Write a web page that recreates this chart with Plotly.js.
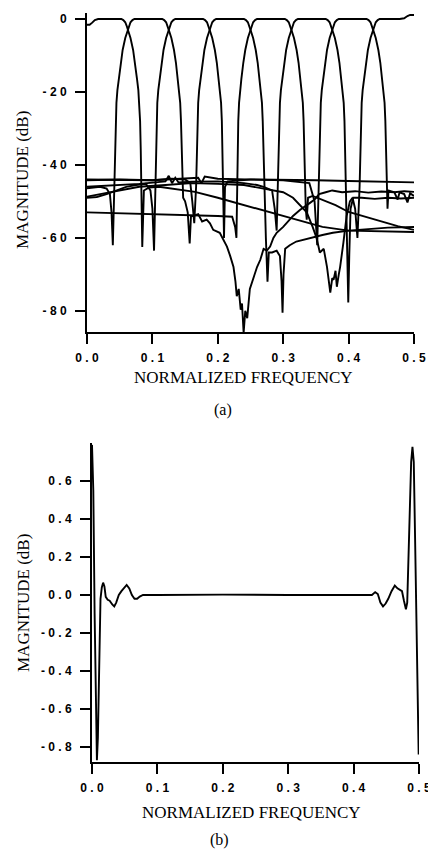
<!DOCTYPE html>
<html>
<head>
<meta charset="utf-8">
<script src="https://cdn.plot.ly/plotly-3.0.1.min.js"></script>
<style>html,body{margin:0;padding:0;background:#fff;}#chart{width:428px;height:850px;}</style>
</head>
<body>
<div id="chart"></div>
<script>
// ---------- Panel (a): filter-bank channel magnitude responses, [frequency, dB] ----------
const ch0 = [[0,-1.6],[0.004,-1.6],[0.008,-1.0],[0.012,-0.3],[0.017,0],[0.0525,0],[0.0555,-0.3],[0.0585,-0.9],[0.0605,-1.8],[0.0625,-3],[0.0665,-5.2],[0.0705,-8.5],[0.0735,-12],[0.0765,-16.5],[0.0785,-19.5],[0.0800,-23],[0.0812,-28],[0.0822,-36],[0.0832,-46],[0.0845,-62.5],[0.087,-47],[0.095,-46.2],[0.11,-46],[0.13,-46.5],[0.15,-47],[0.165,-47.4],[0.2,-49],[0.25,-51.5],[0.3,-54],[0.333,-55.6],[0.36,-57],[0.4,-58],[0.45,-58.3],[0.5,-58.4]];
const ch1 = [[0,-46.4],[0.01,-46.3],[0.02,-46],[0.03,-46.5],[0.035,-48],[0.0375,-53],[0.0395,-62],[0.0418,-46],[0.0428,-36],[0.0438,-28],[0.045,-23],[0.0465,-19.5],[0.0485,-16.5],[0.0515,-12],[0.0545,-8.5],[0.0585,-5.2],[0.0625,-3],[0.0645,-1.8],[0.0665,-0.9],[0.0695,-0.3],[0.0725,0],[0.115,0],[0.118,-0.3],[0.121,-0.9],[0.123,-1.8],[0.125,-3],[0.129,-5.2],[0.133,-8.5],[0.136,-12],[0.139,-16.5],[0.141,-19.5],[0.1425,-23],[0.1437,-28],[0.1447,-36],[0.1457,-46],[0.147,-49],[0.15,-50],[0.154,-53],[0.157,-61.5],[0.159,-54],[0.162,-54],[0.17,-53.5],[0.176,-55.5],[0.183,-55],[0.188,-56],[0.193,-57.8],[0.203,-58.6],[0.209,-60.5],[0.214,-62.4],[0.219,-65],[0.224,-68],[0.227,-72],[0.229,-76],[0.232,-74],[0.235,-79.7],[0.237,-78],[0.2395,-86],[0.242,-80],[0.245,-82],[0.249,-74],[0.254,-71],[0.26,-68],[0.265,-66],[0.27,-63],[0.275,-63.5],[0.28,-62.4],[0.285,-60],[0.29,-58.6],[0.3,-57],[0.307,-55.5],[0.315,-54],[0.326,-52.3],[0.333,-51.5],[0.341,-50.4],[0.348,-49.5],[0.355,-48],[0.365,-47.5],[0.375,-47],[0.39,-47.5],[0.41,-47.2],[0.43,-47.6],[0.45,-47.3],[0.47,-47.5],[0.485,-47.2],[0.5,-47.4]];
const ch2 = [[0,-49],[0.015,-48.8],[0.03,-48],[0.045,-47],[0.06,-46],[0.075,-45.5],[0.09,-45.2],[0.097,-47],[0.1,-52],[0.1025,-63.5],[0.1043,-46],[0.1053,-36],[0.1063,-28],[0.1075,-23],[0.109,-19.5],[0.111,-16.5],[0.114,-12],[0.117,-8.5],[0.121,-5.2],[0.125,-3],[0.127,-1.8],[0.129,-0.9],[0.132,-0.3],[0.135,0],[0.1775,0],[0.1805,-0.3],[0.1835,-0.9],[0.1855,-1.8],[0.1875,-3],[0.1915,-5.2],[0.1955,-8.5],[0.1985,-12],[0.2015,-16.5],[0.2035,-19.5],[0.205,-23],[0.2062,-28],[0.2072,-36],[0.2082,-46],[0.2095,-60],[0.211,-46],[0.215,-44.5],[0.25,-44],[0.3,-44],[0.35,-44.2],[0.4,-44.4],[0.45,-44.6],[0.5,-44.8]];
const ch3 = [[0,-44.2],[0.05,-44],[0.1,-44.2],[0.13,-43.8],[0.15,-44],[0.158,-45],[0.161,-50],[0.164,-56],[0.1668,-46],[0.1678,-36],[0.1688,-28],[0.17,-23],[0.1715,-19.5],[0.1735,-16.5],[0.1765,-12],[0.1795,-8.5],[0.1835,-5.2],[0.1875,-3],[0.1895,-1.8],[0.1915,-0.9],[0.1945,-0.3],[0.1975,0],[0.24,0],[0.243,-0.3],[0.246,-0.9],[0.248,-1.8],[0.25,-3],[0.254,-5.2],[0.258,-8.5],[0.261,-12],[0.264,-16.5],[0.266,-19.5],[0.2675,-23],[0.2687,-28],[0.2697,-36],[0.2707,-46],[0.2735,-60],[0.276,-72],[0.278,-64],[0.283,-64],[0.29,-63.5],[0.295,-65],[0.2975,-72],[0.299,-80.5],[0.3005,-70],[0.303,-63],[0.31,-62],[0.32,-61],[0.34,-60],[0.36,-59.2],[0.376,-58.6],[0.4,-58],[0.43,-57.6],[0.46,-57.2],[0.5,-57]];
const ch4 = [[0,-53],[0.05,-53.2],[0.1,-53.5],[0.15,-53.7],[0.2,-54],[0.222,-54.2],[0.2265,-57],[0.2285,-60],[0.2293,-46],[0.2303,-36],[0.2313,-28],[0.2325,-23],[0.234,-19.5],[0.236,-16.5],[0.239,-12],[0.242,-8.5],[0.246,-5.2],[0.25,-3],[0.252,-1.8],[0.254,-0.9],[0.257,-0.3],[0.26,0],[0.3025,0],[0.3055,-0.3],[0.3085,-0.9],[0.3105,-1.8],[0.3125,-3],[0.3165,-5.2],[0.3205,-8.5],[0.3235,-12],[0.3265,-16.5],[0.3285,-19.5],[0.33,-23],[0.3312,-28],[0.3322,-36],[0.3332,-46],[0.3345,-52],[0.336,-55],[0.338,-49],[0.345,-48.5],[0.36,-49.5],[0.38,-51],[0.4,-52.9],[0.42,-54],[0.45,-55.5],[0.475,-56.8],[0.5,-57.8]];
const ch5 = [[0,-46],[0.04,-45.6],[0.08,-45.2],[0.12,-44.5],[0.125,-43],[0.13,-45],[0.135,-43.5],[0.14,-44.8],[0.16,-44.6],[0.2,-44.5],[0.24,-45],[0.26,-45.5],[0.27,-46],[0.283,-47],[0.287,-52],[0.29,-58],[0.2918,-46],[0.2928,-36],[0.2938,-28],[0.295,-23],[0.2965,-19.5],[0.2985,-16.5],[0.3015,-12],[0.3045,-8.5],[0.3085,-5.2],[0.3125,-3],[0.3145,-1.8],[0.3165,-0.9],[0.3195,-0.3],[0.3225,0],[0.365,0],[0.368,-0.3],[0.371,-0.9],[0.373,-1.8],[0.375,-3],[0.379,-5.2],[0.383,-8.5],[0.386,-12],[0.389,-16.5],[0.391,-19.5],[0.3925,-23],[0.3937,-28],[0.3947,-36],[0.3957,-46],[0.397,-60],[0.3995,-77.7],[0.401,-65],[0.403,-52],[0.407,-49],[0.42,-49],[0.44,-49.3],[0.46,-49],[0.48,-49.2],[0.5,-49]];
const ch6 = [[0,-44],[0.1,-44.2],[0.17,-43.5],[0.175,-45],[0.18,-43.2],[0.2,-43.8],[0.3,-44.2],[0.34,-45],[0.348,-50],[0.352,-62],[0.3543,-46],[0.3553,-36],[0.3563,-28],[0.3575,-23],[0.359,-19.5],[0.361,-16.5],[0.364,-12],[0.367,-8.5],[0.371,-5.2],[0.375,-3],[0.377,-1.8],[0.379,-0.9],[0.382,-0.3],[0.385,0],[0.4275,0],[0.4305,-0.3],[0.4335,-0.9],[0.4355,-1.8],[0.4375,-3],[0.4415,-5.2],[0.4455,-8.5],[0.4485,-12],[0.4515,-16.5],[0.4535,-19.5],[0.455,-23],[0.4562,-28],[0.4572,-36],[0.4582,-46],[0.4595,-52],[0.461,-47],[0.47,-47.5],[0.475,-49.5],[0.478,-47.5],[0.485,-48],[0.49,-50.3],[0.494,-47.8],[0.5,-48.5]];
const ch7 = [[0,-48.7],[0.02,-48],[0.05,-47],[0.08,-46],[0.12,-45.5],[0.16,-45],[0.2,-45.2],[0.24,-45.5],[0.27,-46.5],[0.3,-47.5],[0.315,-49],[0.326,-51],[0.336,-53],[0.345,-57],[0.351,-60],[0.356,-64],[0.362,-63],[0.367,-68],[0.372,-75],[0.375,-71],[0.377,-71.5],[0.38,-69],[0.382,-73.4],[0.385,-70],[0.387,-68],[0.392,-61.4],[0.397,-54],[0.402,-50],[0.406,-49],[0.41,-52],[0.4135,-60],[0.4168,-46],[0.4178,-36],[0.4188,-28],[0.42,-23],[0.4215,-19.5],[0.4235,-16.5],[0.4265,-12],[0.4295,-8.5],[0.4335,-5.2],[0.4375,-3],[0.4395,-1.8],[0.4415,-0.9],[0.4445,-0.3],[0.4475,0],[0.478,0],[0.485,0.2],[0.49,0.8],[0.494,1.1],[0.5,1.1]];
const channelsA = [ch0, ch1, ch2, ch3, ch4, ch5, ch6, ch7];

// ---------- Panel (b): overall passband ripple, [frequency, dB] ----------
const ripple = [[0,0.79],[0.002,0.55],[0.004,-0.1],[0.006,-0.6],[0.0075,-0.87],[0.009,-0.75],[0.011,-0.3],[0.013,-0.02],[0.015,0.04],[0.017,0.065],[0.019,0.045],[0.021,-0.01],[0.024,-0.025],[0.027,-0.03],[0.031,-0.05],[0.034,-0.06],[0.037,-0.04],[0.041,0.0],[0.045,0.02],[0.049,0.04],[0.053,0.053],[0.057,0.035],[0.061,0.0],[0.065,-0.02],[0.069,-0.02],[0.073,-0.008],[0.078,0.0],[0.1,0.0],[0.2,0.002],[0.3,0.0],[0.4,0.0],[0.428,0.0],[0.433,0.015],[0.437,0.005],[0.441,-0.04],[0.445,-0.06],[0.449,-0.045],[0.453,-0.02],[0.458,0.02],[0.463,0.05],[0.467,0.035],[0.471,0.025],[0.474,0.02],[0.477,-0.03],[0.48,-0.075],[0.482,-0.04],[0.484,0.2],[0.486,0.45],[0.488,0.7],[0.49,0.78],[0.492,0.7],[0.494,0.3],[0.496,-0.2],[0.4985,-0.7],[0.4995,-0.84]];

// ---------- Tick labels and texts ----------
const xTickVals = [0, 0.1, 0.2, 0.3, 0.4, 0.5];
const xTickText = ['0 . 0', '0 . 1', '0 . 2', '0 . 3', '0 . 4', '0 . 5'];
const yTickValsA = [0, -20, -40, -60, -80];
const yTickTextA = ['0', '- 2 0', '- 4 0', '- 6 0', '- 8 0'];
const yTickValsB = [0.6, 0.4, 0.2, 0, -0.2, -0.4, -0.6, -0.8];
const yTickTextB = ['0 . 6', '0 . 4', '0 . 2', '0 . 0', '- 0 . 2', '- 0 . 4', '- 0 . 6', '- 0 . 8'];
const xTitle = 'NORMALIZED FREQUENCY';
const yTitle = 'MAGNITUDE (dB)';
const captions = ['(a)', '(b)'];

const lineStyle = {color: '#000', width: 1.9};
const traces = [];
channelsA.forEach((c, i) => {
  traces.push({type: 'scatter', mode: 'lines', name: 'Channel ' + i,
    x: c.map(p => p[0]), y: c.map(p => p[1]), xaxis: 'x', yaxis: 'y', line: lineStyle,
    hoverinfo: 'skip'});
});
traces.push({type: 'scatter', mode: 'lines', name: 'Overall',
  x: ripple.map(p => p[0]), y: ripple.map(p => p[1]), xaxis: 'x2', yaxis: 'y2', line: lineStyle,
  hoverinfo: 'skip'});

const tickFont = {family: 'Liberation Sans, Arial, sans-serif', size: 12, color: '#000', weight: 'bold'};
const serif = 'Liberation Serif, Times New Roman, serif';
const titleFont = {family: serif, size: 17, color: '#000'};
const axisCommon = {
  showline: true, linecolor: '#000', linewidth: 2, showgrid: false, zeroline: false,
  ticks: 'outside', ticklen: 10, tickwidth: 2, tickcolor: '#000', tickfont: tickFont,
  tickmode: 'array', fixedrange: true, ticklabeloverflow: 'allow'
};
const W = 428, H = 850;
function note(text, px, py, angle, size) {
  return {text: text, xref: 'paper', yref: 'paper', x: px / W, y: 1 - py / H, showarrow: false,
    xanchor: 'center', yanchor: 'middle', textangle: angle || 0,
    font: {family: serif, size: size, color: '#000'}};
}

const layout = {
  width: W, height: H,
  margin: {l: 0, r: 0, t: 0, b: 0},
  paper_bgcolor: '#fff', plot_bgcolor: 'rgba(0,0,0,0)',
  showlegend: false,
  xaxis: Object.assign({}, axisCommon, {
    domain: [87/W, 414/W], range: [0, 0.5], anchor: 'y',
    tickvals: xTickVals, ticktext: xTickText, ticklabelstandoff: 4
  }),
  yaxis: Object.assign({}, axisCommon, {
    domain: [1 - 332/H, 1 - 13/H], range: [-85.8, 1.64], anchor: 'x',
    tickvals: yTickValsA, ticktext: yTickTextA, ticklabelstandoff: 6
  }),
  xaxis2: Object.assign({}, axisCommon, {
    domain: [92/W, 419/W], range: [0, 0.5], anchor: 'y2',
    tickvals: xTickVals, ticktext: xTickText, ticklabelstandoff: 4
  }),
  yaxis2: Object.assign({}, axisCommon, {
    domain: [1 - 762/H, 1 - 443/H], range: [-0.879, 0.8], anchor: 'x2',
    tickvals: yTickValsB, ticktext: yTickTextB, ticklabelstandoff: 6
  }),
  annotations: [
    note(xTitle, 243, 377, 0, 17),
    note(yTitle, 22, 180, -90, 17),
    note(captions[0], 223, 410, 0, 16),
    note(xTitle, 251, 812, 0, 17),
    note(yTitle, 23, 603, -90, 17),
    note(captions[1], 220, 840, 0, 16)
  ]
};

Plotly.newPlot('chart', traces, layout, {staticPlot: true, displayModeBar: false});
</script>
</body>
</html>
